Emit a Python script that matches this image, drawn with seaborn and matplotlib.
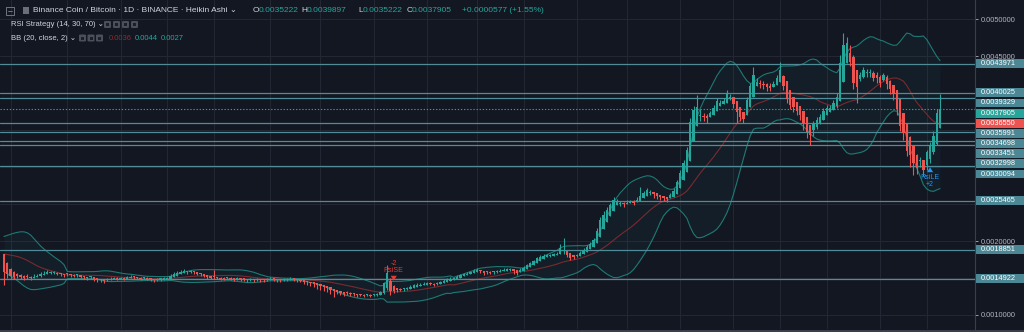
import numpy as np
import pandas as pd
import matplotlib
matplotlib.use("Agg")
import matplotlib.pyplot as plt
import matplotlib.patches as mpatches
import matplotlib.transforms as mtransforms
import seaborn as sns

# ---------------------------------------------------------------- data
# BNB/BTC daily, Heikin Ashi candles (values in BTC)
pre_close = [0.00168, 0.00171, 0.00166, 0.00174, 0.00180, 0.00186, 0.00192, 0.00199, 0.00204, 0.00201,
             0.00196, 0.00190, 0.00186, 0.00183, 0.00181, 0.00178, 0.00176, 0.00177, 0.00181]
first_open = 0.00182

ha_close = [
    0.00158, 0.00155, 0.00153, 0.00152, 0.00153, 0.00151, 0.00150, 0.00151, 0.00150, 0.00152,
    0.00153, 0.00155, 0.00156, 0.00158, 0.00157, 0.00157, 0.00156, 0.00155, 0.00154, 0.00155,
    0.00154, 0.00153, 0.00154, 0.00152, 0.00151, 0.00150, 0.00151, 0.00149, 0.00148, 0.00147,
    0.00146, 0.00148, 0.00149, 0.00150, 0.00149, 0.00150, 0.00149, 0.00151, 0.00152, 0.00151,
    0.00150, 0.00149, 0.00150, 0.00149, 0.00148, 0.00147, 0.00148, 0.00148, 0.00149, 0.00150,
    0.00153, 0.00155, 0.00157, 0.00158, 0.00159, 0.00158, 0.00159, 0.00158, 0.00156, 0.00155,
    0.00153, 0.00151, 0.00150, 0.00151, 0.00150, 0.00149, 0.00149, 0.00150, 0.00149, 0.00148,
    0.00149, 0.00148, 0.00148, 0.00147, 0.00148, 0.00147, 0.00148, 0.00147, 0.00147, 0.00148,
    0.00149, 0.00148, 0.00147, 0.00147, 0.00148, 0.00148, 0.00149, 0.00148, 0.00147, 0.00146,
    0.00145, 0.00144, 0.00143, 0.00142, 0.00140, 0.00139, 0.00138, 0.00136, 0.00134, 0.00132,
    0.00131, 0.00130, 0.00129, 0.00130, 0.00129, 0.00128, 0.00127, 0.00127, 0.00126, 0.00127,
    0.00126, 0.00127, 0.00128, 0.00131, 0.00143, 0.00157, 0.00133, 0.00133, 0.00134, 0.00134,
    0.00135, 0.00136, 0.00138, 0.00140, 0.00141, 0.00141, 0.00142, 0.00143, 0.00142, 0.00141,
    0.00142, 0.00144, 0.00146, 0.00148, 0.00149, 0.00150, 0.00152, 0.00154, 0.00155, 0.00156,
    0.00158, 0.00160, 0.00161, 0.00159, 0.00157, 0.00158, 0.00157, 0.00158, 0.00159, 0.00160,
    0.00161, 0.00162, 0.00162, 0.00159, 0.00157, 0.00161, 0.00164, 0.00167, 0.00170, 0.00173,
    0.00177, 0.00179, 0.00180, 0.00181, 0.00180, 0.00182, 0.00183, 0.00191, 0.00187, 0.00181,
    0.00177, 0.00178, 0.00181, 0.00184, 0.00188, 0.00192, 0.00196, 0.00201, 0.00214, 0.00228,
    0.00235, 0.00242, 0.00248, 0.00255, 0.00253, 0.00251, 0.00250, 0.00252, 0.00253, 0.00252,
    0.00256, 0.00261, 0.00265, 0.00269, 0.00266, 0.00263, 0.00261, 0.00259, 0.00258, 0.00257,
    0.00262, 0.00268, 0.00280, 0.00292, 0.00305, 0.00323, 0.00361, 0.00377, 0.00381, 0.00369,
    0.00368, 0.00366, 0.00373, 0.00380, 0.00389, 0.00387, 0.00389, 0.00399, 0.00395, 0.00385,
    0.00374, 0.00368, 0.00365, 0.00391, 0.00410, 0.00424, 0.00415, 0.00412, 0.00411, 0.00408,
    0.00407, 0.00412, 0.00420, 0.00431, 0.00410, 0.00392, 0.00384, 0.00381, 0.00376, 0.00370,
    0.00358, 0.00347, 0.00343, 0.00358, 0.00364, 0.00368, 0.00376, 0.00380, 0.00380, 0.00387,
    0.00395, 0.00441, 0.00465, 0.00468, 0.00442, 0.00414, 0.00408, 0.00424, 0.00431, 0.00427,
    0.00428, 0.00420, 0.00420, 0.00414, 0.00424, 0.00412, 0.00406, 0.00398, 0.00378, 0.00355,
    0.00346, 0.00322, 0.00316, 0.00305, 0.00299, 0.00310, 0.00296, 0.00320, 0.00330, 0.00341704,
    0.0037328, 0.0037905,
]

ha_high = [
    0.00183, 0.00172, 0.00164, 0.00160, 0.00157, 0.00156, 0.00154, 0.00155, 0.00153, 0.00155,
    0.00155, 0.00158, 0.00160, 0.00161, 0.00159, 0.00159, 0.00158, 0.00157, 0.00156, 0.00157,
    0.00156, 0.00155, 0.00156, 0.00154, 0.00153, 0.00152, 0.00153, 0.00151, 0.00150, 0.00149,
    0.00148, 0.00150, 0.00151, 0.00152, 0.00151, 0.00152, 0.00151, 0.00153, 0.00154, 0.00153,
    0.00152, 0.00151, 0.00152, 0.00151, 0.00150, 0.00149, 0.00150, 0.00150, 0.00151, 0.00152,
    0.00155, 0.00158, 0.00160, 0.00161, 0.00162, 0.00160, 0.00161, 0.00160, 0.00158, 0.00157,
    0.00155, 0.00153, 0.00152, 0.00161, 0.00152, 0.00151, 0.00151, 0.00152, 0.00151, 0.00150,
    0.00151, 0.00150, 0.00150, 0.00149, 0.00150, 0.00149, 0.00150, 0.00149, 0.00149, 0.00150,
    0.00151, 0.00150, 0.00149, 0.00149, 0.00150, 0.00150, 0.00151, 0.00150, 0.00149, 0.00148,
    0.00147, 0.00146, 0.00145, 0.00144, 0.00142, 0.00141, 0.00140, 0.00138, 0.00136, 0.00134,
    0.00133, 0.00132, 0.00131, 0.00132, 0.00131, 0.00130, 0.00129, 0.00129, 0.00128, 0.00129,
    0.00128, 0.00129, 0.00130, 0.00133, 0.00145, 0.00168, 0.00150, 0.00140, 0.00137, 0.00136,
    0.00137, 0.00138, 0.00140, 0.00142, 0.00143, 0.00143, 0.00144, 0.00145, 0.00144, 0.00143,
    0.00144, 0.00146, 0.00148, 0.00150, 0.00151, 0.00152, 0.00154, 0.00156, 0.00157, 0.00158,
    0.00160, 0.00162, 0.00164, 0.00161, 0.00159, 0.00160, 0.00159, 0.00160, 0.00161, 0.00162,
    0.00163, 0.00164, 0.00164, 0.00161, 0.00159, 0.00163, 0.00166, 0.00169, 0.00172, 0.00175,
    0.00179, 0.00181, 0.00182, 0.00183, 0.00182, 0.00184, 0.00185, 0.00196, 0.00204, 0.00186,
    0.00181, 0.00180, 0.00183, 0.00186, 0.00190, 0.00194, 0.00198, 0.00204, 0.00218, 0.00232,
    0.00240, 0.00246, 0.00252, 0.00259, 0.00257, 0.00254, 0.00253, 0.00255, 0.00256, 0.00255,
    0.00259, 0.00273, 0.00268, 0.00272, 0.00269, 0.00266, 0.00264, 0.00262, 0.00261, 0.00260,
    0.00265, 0.00271, 0.00283, 0.00296, 0.00309, 0.00327, 0.00366, 0.00382, 0.00397, 0.00378,
    0.00373, 0.00372, 0.00376, 0.00384, 0.00393, 0.00391, 0.00393, 0.00404, 0.00399, 0.00392,
    0.00382, 0.00376, 0.00371, 0.00395, 0.00414, 0.00435, 0.00420, 0.00418, 0.00416, 0.00414,
    0.00413, 0.00416, 0.00424, 0.00442, 0.00425, 0.00412, 0.00396, 0.00390, 0.00386, 0.00380,
    0.00370, 0.00360, 0.00352, 0.00362, 0.00368, 0.00372, 0.00380, 0.00384, 0.00384, 0.00391,
    0.00400, 0.00452, 0.00481, 0.00476, 0.00465, 0.00452, 0.00430, 0.00428, 0.00435, 0.00433,
    0.00432, 0.00430, 0.00428, 0.00424, 0.00427, 0.00425, 0.00418, 0.00410, 0.00402, 0.00390,
    0.00372, 0.00360, 0.00342, 0.00330, 0.00318, 0.00314, 0.00310, 0.00323, 0.00334, 0.00348,
    0.00378, 0.0039897,
]

ha_low = [
    0.00141, 0.00150, 0.00149, 0.00149, 0.00150, 0.00148, 0.00147, 0.00149, 0.00147, 0.00150,
    0.00151, 0.00152, 0.00154, 0.00155, 0.00155, 0.00155, 0.00154, 0.00153, 0.00152, 0.00153,
    0.00152, 0.00151, 0.00152, 0.00150, 0.00148, 0.00147, 0.00149, 0.00146, 0.00145, 0.00144,
    0.00143, 0.00146, 0.00147, 0.00148, 0.00147, 0.00148, 0.00147, 0.00149, 0.00150, 0.00149,
    0.00148, 0.00147, 0.00148, 0.00147, 0.00146, 0.00145, 0.00146, 0.00146, 0.00147, 0.00148,
    0.00149, 0.00152, 0.00154, 0.00156, 0.00157, 0.00156, 0.00157, 0.00156, 0.00154, 0.00153,
    0.00151, 0.00149, 0.00148, 0.00149, 0.00148, 0.00147, 0.00147, 0.00148, 0.00147, 0.00146,
    0.00147, 0.00146, 0.00146, 0.00145, 0.00146, 0.00145, 0.00146, 0.00145, 0.00145, 0.00146,
    0.00147, 0.00146, 0.00145, 0.00145, 0.00146, 0.00146, 0.00147, 0.00146, 0.00145, 0.00144,
    0.00142, 0.00141, 0.00139, 0.00138, 0.00135, 0.00134, 0.00133, 0.00131, 0.00129, 0.00124,
    0.00128, 0.00127, 0.00126, 0.00127, 0.00126, 0.00125, 0.00124, 0.00125, 0.00124, 0.00125,
    0.00124, 0.00125, 0.00126, 0.00127, 0.00128, 0.00134, 0.00127, 0.00130, 0.00131, 0.00132,
    0.00133, 0.00134, 0.00136, 0.00138, 0.00139, 0.00139, 0.00140, 0.00141, 0.00140, 0.00139,
    0.00140, 0.00142, 0.00144, 0.00146, 0.00147, 0.00148, 0.00150, 0.00152, 0.00153, 0.00154,
    0.00156, 0.00158, 0.00159, 0.00157, 0.00154, 0.00156, 0.00155, 0.00156, 0.00157, 0.00158,
    0.00159, 0.00160, 0.00160, 0.00156, 0.00154, 0.00158, 0.00162, 0.00165, 0.00168, 0.00171,
    0.00175, 0.00177, 0.00178, 0.00179, 0.00178, 0.00180, 0.00181, 0.00182, 0.00183, 0.00178,
    0.00175, 0.00176, 0.00179, 0.00182, 0.00186, 0.00190, 0.00194, 0.00199, 0.00212, 0.00226,
    0.00233, 0.00240, 0.00246, 0.00253, 0.00250, 0.00247, 0.00246, 0.00250, 0.00251, 0.00249,
    0.00253, 0.00258, 0.00263, 0.00267, 0.00262, 0.00258, 0.00257, 0.00255, 0.00254, 0.00253,
    0.00259, 0.00265, 0.00277, 0.00290, 0.00303, 0.00321, 0.00359, 0.00375, 0.00379, 0.00362,
    0.00362, 0.00360, 0.00370, 0.00377, 0.00386, 0.00382, 0.00386, 0.00396, 0.00390, 0.00380,
    0.00359, 0.00362, 0.00360, 0.00388, 0.00407, 0.00421, 0.00410, 0.00407, 0.00405, 0.00403,
    0.00403, 0.00408, 0.00417, 0.00428, 0.00404, 0.00386, 0.00378, 0.00375, 0.00370, 0.00364,
    0.00350, 0.00339, 0.00330, 0.00342, 0.00352, 0.00358, 0.00364, 0.00372, 0.00375, 0.00377,
    0.00380, 0.00390, 0.00430, 0.00455, 0.00436, 0.00406, 0.00386, 0.00416, 0.00420, 0.00422,
    0.00422, 0.00416, 0.00414, 0.00408, 0.00416, 0.00406, 0.00398, 0.00390, 0.00370, 0.00348,
    0.00336, 0.00315, 0.00300, 0.00289, 0.00290, 0.00300, 0.00288, 0.00296, 0.00306, 0.00318,
    0.00330, 0.0035222,
]

# horizontal support / resistance levels drawn on the chart
levels = [0.0043971, 0.0040025, 0.0039329, 0.0035991, 0.0034698, 0.0033451,
          0.0032998, 0.0030094, 0.0025465, 0.0018851, 0.0014922]
basis_tag = 0.0036550
price_ticks = [0.0010, 0.0015, 0.0020, 0.0025, 0.0030, 0.0035, 0.0040, 0.0045, 0.0050]
# vertical grid (half-month marks), as bar numbers
time_ticks = [2, 19, 35, 49, 63, 80, 95, 111, 127, 142, 156, 172, 187, 203, 219, 233, 247, 263, 277]
# strategy fills: (bar, label, quantity)
short_entry = (117, "RsiSE", "-2")
long_entry = (278, "RsiLE", "+2")

# ---------------------------------------------------------------- colours
BG = "#131722"
GRID = "#232733"
UP = "#26a69a"
DOWN = "#ef5350"
LEVEL = "#4f8c98"
LEVEL_BOX = "#4b8794"
BAND = "#1f8a82"
BASIS = "#7a2a2e"
TEXT = "#d1d4dc"
TICK = "#b2b5be"

sns.set_theme(style="dark", rc={"axes.facecolor": BG, "figure.facecolor": BG})
plt.rcParams["font.family"] = ["Liberation Sans", "DejaVu Sans"]

# ---------------------------------------------------------------- derived series
n = len(ha_close)
c = np.array(ha_close)
o = np.empty(n)
o[0] = first_open
for i in range(1, n):
    o[i] = (o[i - 1] + c[i - 1]) / 2.0
hi = np.maximum.reduce([np.array(ha_high), o, c])
lo = np.minimum.reduce([np.array(ha_low), o, c])

series = pd.Series(pre_close + ha_close)
mid = series.rolling(20).mean()
dev = series.rolling(20).std(ddof=0)
k = len(pre_close)
bb_mid = mid.iloc[k:].to_numpy()
bb_up = (mid + 2 * dev).iloc[k:].to_numpy()
bb_lo = (mid - 2 * dev).iloc[k:].to_numpy()
bars = np.arange(n)

# ---------------------------------------------------------------- figure
W, H = 1024, 332
fig = plt.figure(figsize=(W / 100, H / 100), dpi=100, facecolor=BG)
ax = fig.add_axes([0, 3 / H, 975 / W, 329 / H])
ax.set_facecolor(BG)

ax.set_xlim(-1.2, 291.5)
ax.set_ylim(0.00081081, 0.00525676)

ax.set_xticks(time_ticks)
ax.set_yticks(price_ticks)
ax.grid(True, color=GRID, linewidth=0.8)
ax.tick_params(axis="x", length=0, labelbottom=False)
ax.yaxis.tick_right()
ax.tick_params(axis="y", colors=TICK, labelsize=5.3, length=2.5, width=0.6, pad=1.5)
for side in ("top", "left", "bottom"):
    ax.spines[side].set_visible(False)
ax.spines["right"].set_color("#3a3e49")
ax.spines["right"].set_linewidth(0.8)

# Bollinger Bands (20, close, 2)
ax.fill_between(bars, bb_lo, bb_up, color=UP, alpha=0.05, linewidth=0, zorder=1)
sns.lineplot(x=bars, y=bb_up, ax=ax, color=BAND, linewidth=0.8, alpha=0.85, zorder=2)
sns.lineplot(x=bars, y=bb_lo, ax=ax, color=BAND, linewidth=0.8, alpha=0.85, zorder=2)
sns.lineplot(x=bars, y=bb_mid, ax=ax, color=BASIS, linewidth=0.8, zorder=2)

# level lines
for v in levels:
    ax.axhline(v, color=LEVEL, linewidth=0.9, zorder=3)
ax.axhline(c[-1], color=UP, linewidth=0.8, linestyle=(0, (1.2, 1.6)), zorder=3)

# Heikin Ashi candles
col = np.where(c >= o, UP, DOWN)
ax.vlines(bars, lo, hi, colors=col, linewidth=0.8, zorder=4)
body_lo = np.minimum(o, c)
body_h = np.maximum(np.abs(c - o), 1.4e-5)
ax.bar(bars, body_h, bottom=body_lo, width=0.7, color=col, linewidth=0, zorder=5)


# strategy entries
def marker(bar, label, qty, color, above):
    if above:
        base = hi[bar]
        sgn = 1
    else:
        base = lo[bar]
        sgn = -1
    tip = mtransforms.offset_copy(ax.transData, fig=fig, x=0, y=sgn * 2, units="dots")
    ax.annotate("", xy=(bar, base), xycoords=tip,
                xytext=(0, sgn * 9), textcoords="offset pixels",
                arrowprops=dict(arrowstyle="simple,head_width=0.9,head_length=0.7,tail_width=0.45",
                                color=color, lw=0, mutation_scale=5), zorder=6)
    ax.annotate(label, xy=(bar, base), xytext=(0, sgn * 14.5), textcoords="offset pixels",
                ha="center", va="center", fontsize=5, color=color, zorder=6)
    ax.annotate(qty, xy=(bar, base), xytext=(0, sgn * 21.5), textcoords="offset pixels",
                ha="center", va="center", fontsize=5, color=color, zorder=6)


marker(short_entry[0], short_entry[1], short_entry[2], "#e53935", True)
marker(long_entry[0], long_entry[1], long_entry[2], "#2196f3", False)

# ---------------------------------------------------------------- price scale tags
fig.canvas.draw()


def ytop(v):
    return H - ax.transData.transform((0, v))[1]


tags = [(v, LEVEL_BOX) for v in levels] + [(c[-1], UP), (basis_tag, DOWN)]
tags.sort(key=lambda t: -t[0])
pitch = 10.15
prev = -100
tag_rows = []
for v, bg in tags:
    y = max(ytop(v), prev + pitch)
    prev = y
    tag_rows.append(y)
    fig.patches.append(mpatches.Rectangle((976 / W, 1 - (y + 4.4) / H), 48 / W, 8.8 / H,
                                          transform=fig.transFigure, facecolor=bg,
                                          edgecolor="none", zorder=5))
    fig.text(980.5 / W, 1 - y / H, f"{v:.7f}", color="white", fontsize=5.3,
             ha="left", va="center", zorder=6)

# scale numbers that sit under a tag are not written
tick_text = []
for t in price_ticks:
    covered = any(abs(ytop(t) - y) < 7.0 for y in tag_rows)
    tick_text.append("" if covered else f"{t:.7f}")
ax.set_yticks(price_ticks)
ax.set_yticklabels(tick_text)

# bottom edge of the pane
fig.patches.append(mpatches.Rectangle((0, 0), 1, 2.5 / H, transform=fig.transFigure,
                                      facecolor="#3b3f4b", edgecolor="none", zorder=5))


# ---------------------------------------------------------------- legend rows
def ftext(x, y, s, color=TEXT, size=6.0, **kw):
    fig.text(x / W, 1 - y / H, s, color=color, fontsize=size, ha="left", va="center", **kw)


def icon_box(x, y, w=7, h=7):
    fig.patches.append(mpatches.FancyBboxPatch((x / W, 1 - (y + h / 2) / H), w / W, h / H,
                                               boxstyle="round,pad=0,rounding_size=0.002",
                                               transform=fig.transFigure,
                                               facecolor="#4a4f5b", edgecolor="none", zorder=5))
    fig.patches.append(mpatches.Rectangle(((x + 2) / W, 1 - (y + 1.5) / H), 3 / W, 3 / H,
                                          transform=fig.transFigure, facecolor="#1b1f2a",
                                          edgecolor="none", zorder=6))


# row 1: symbol and OHLC of the last bar
fig.patches.append(mpatches.Rectangle((6 / W, 1 - 14.5 / H), 8 / W, 8 / H, transform=fig.transFigure,
                                      facecolor="none", edgecolor="#7f838e", linewidth=0.6, zorder=5))
fig.lines.append(plt.Line2D([7.8 / W, 12.2 / W], [1 - 10.5 / H, 1 - 10.5 / H],
                            transform=fig.transFigure, color="#7f838e", linewidth=0.6))
fig.patches.append(mpatches.Rectangle((23 / W, 1 - 14 / H), 6 / W, 7 / H, transform=fig.transFigure,
                                      facecolor="#6a6e79", edgecolor="none", zorder=5))
ftext(33, 10.5, "Binance Coin / Bitcoin \u00b7 1D \u00b7 BINANCE \u00b7 Heikin Ashi \u2304")

chg = c[-1] - c[-2]
pct = chg / c[-2] * 100
ftext(253, 10.5, "O")
ftext(258.5, 10.5, f"{o[-1]:.7f}", UP)
ftext(301.5, 10.5, "H")
ftext(306.5, 10.5, f"{hi[-1]:.7f}", UP)
ftext(358.5, 10.5, "L")
ftext(363, 10.5, f"{lo[-1]:.7f}", UP)
ftext(406.5, 10.5, "C")
ftext(411.5, 10.5, f"{c[-1]:.7f}", UP)
ftext(462.5, 10.5, f"{chg:+.7f} ({pct:+.2f}%)", UP)

# row 2: strategy
ftext(11, 24.5, "RSI Strategy (14, 30, 70) \u2304", size=5.5)
for x in (104, 113, 122, 131):
    icon_box(x, 24.5)

# row 3: Bollinger Bands with their last values
ftext(11, 38, "BB (20, close, 2) \u2304", size=5.5)
for x in (79, 87.5, 96):
    icon_box(x, 38)
ftext(108.5, 38, f"{bb_mid[-1]:.4f}", "#8e2b2f", size=5.5)
ftext(135, 38, f"{bb_up[-1]:.4f}", UP, size=5.5)
ftext(161, 38, f"{bb_lo[-1]:.4f}", UP, size=5.5)

fig.savefig("out.png", dpi=100, facecolor=BG)
